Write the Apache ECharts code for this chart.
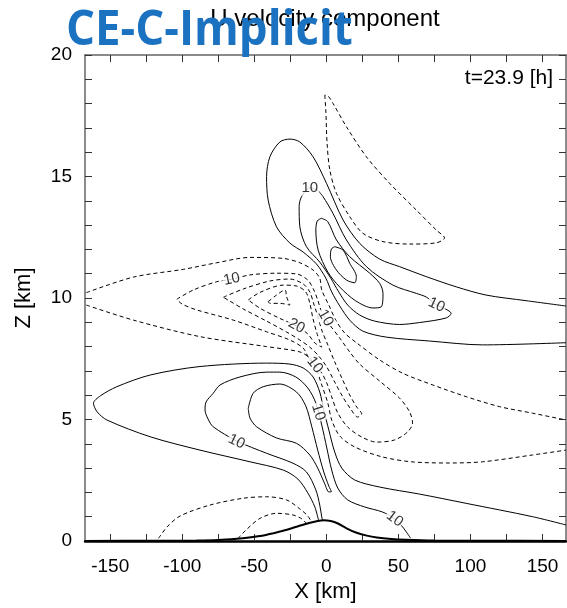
<!DOCTYPE html>
<html>
<head>
<meta charset="utf-8">
<title>U velocity component</title>
<script src="https://cdn.jsdelivr.net/npm/echarts@6.0.0/dist/echarts.min.js"></script>
<style>
html, body { margin: 0; padding: 0; background: #fff; }
#main { width: 567px; height: 608px; }
</style>
</head>
<body>
<div id="main"></div>
<script>
// tick values
var xTicks = [-150, -125, -100, -75, -50, -25, 0, 25, 50, 75, 100, 125, 150];
var xLabels = [-150, -100, -50, 0, 50, 100, 150];
var zLabels = [0, 5, 10, 15, 20];

// mountain profile [x km, z km]
var terrain = [[-167.5,0],[-120,0.01],[-90,0.02],[-75,0.04],[-62,0.09],[-55,0.13],[-42,0.25],[-30,0.42],[-20,0.6],[-12,0.74],[-6,0.82],[-2,0.85],[3,0.82],[8,0.72],[14,0.52],[20,0.36],[28,0.22],[35,0.14],[45,0.08],[55,0.05],[75,0.02],[110,0.01],[166.3,0]];

// positive contours (solid), upper jet
var posUp1 = [[166.3,9.67],[138.6,9.89],[110.9,10.12],[90.1,10.46],[69.3,10.88],[50.8,11.29],[37.0,11.60],[23.1,12.25],[11.6,13.21],[0.1,14.72],[-9.2,15.81],[-18.4,16.42],[-25.3,16.54],[-32.3,16.42],[-39.2,15.81],[-41.5,14.99],[-40.4,14.03],[-34.6,12.93],[-25.3,12.26],[-16.1,11.89],[-6.9,11.40],[-0.4,10.82],[3.7,10.25],[9.3,9.67],[16.2,9.09],[25.2,8.64],[41.6,8.39],[71.6,8.23],[108.5,8.07],[166.3,8.16]];
var posUp2 = [[-6.0,14.44],[-2.3,14.17],[4.6,13.48],[13.9,12.39],[27.8,11.29],[46.2,10.53],[62.4,10.19],[69.3,10.04],[76.5,9.71],[82.7,9.55],[86.6,9.37],[83.2,9.18],[64.7,8.99],[50.8,8.91],[33.5,9.05],[23.1,9.30],[14.8,9.71],[8.6,10.25],[3.0,10.82],[-4.6,11.48],[-13.8,12.11],[-18.4,12.93],[-18.9,13.76],[-17.2,14.17],[-11.5,14.53]];
var posUp3 = [[-3.4,13.28],[1.0,13.14],[7.0,12.39],[16.2,11.70],[30.1,11.02],[37.0,10.60],[39.3,10.19],[38.2,9.64],[32.3,9.59],[20.4,9.88],[9.3,10.45],[1.0,11.07],[-5.7,11.97],[-7.3,12.80],[-6.3,13.17]];
var posUp4 = [[5.8,12.11],[11.6,11.97],[16.2,11.43],[20.8,10.88],[19.7,10.63],[13.9,10.74],[7.0,11.15],[2.8,11.70],[3.5,12.02]];

// positive contours (solid), low level lee jet
var posLow1 = [[166.3,0.66],[143.1,1.00],[97.0,1.55],[64.7,1.93],[37.0,2.22],[19.7,2.51],[10.7,3.00],[5.8,3.66],[1.7,4.57],[-1.8,5.39],[-4.6,6.13],[-9.2,6.75],[-16.1,7.12],[-25.3,7.28],[-41.5,7.32],[-87.7,7.18],[-122.3,6.83],[-145.4,6.35],[-156.9,5.97],[-161.6,5.67],[-159.0,5.31],[-152.3,4.98],[-122.3,4.29],[-87.7,3.74],[-53.0,3.26],[-30.0,2.92],[-19.8,2.55],[-12.9,1.98],[-8.0,1.40],[-5.3,0.82]];
var posLow2 = [[58.4,0.12],[52.9,0.58],[47.4,0.91],[39.1,1.19],[26.6,1.40],[14.8,1.69],[7.9,2.18],[3.7,2.92],[0.3,3.83],[-3.2,4.77],[-7.3,5.68],[-12.9,6.30],[-21.2,6.75],[-32.3,6.95],[-41.5,6.95],[-60.0,6.75],[-73.8,6.42],[-78.5,6.08],[-83.5,5.72],[-84.2,5.39],[-82.1,5.02],[-78.5,4.70],[-62.3,4.12],[-41.5,3.61],[-23.1,3.20],[-13.8,2.84],[-7.3,2.10],[-4.6,1.48],[-3.2,0.99],[-2.5,0.82]];
var posLow3 = [[-54.2,5.46],[-50.8,6.08],[-43.8,6.35],[-32.3,6.46],[-20.7,6.13],[-14.3,5.56],[-10.1,4.70],[-6.0,3.74],[-1.8,2.84],[1.7,2.26],[3.5,2.03],[1.7,2.02],[-1.1,2.35],[-6.0,3.00],[-11.5,3.54],[-20.7,4.02],[-34.6,4.24],[-48.4,4.70],[-53.0,5.06]];

// negative contours (dashed)
var negTop = [[-1.1,18.35],[-0.4,17.74],[0.5,16.37],[2.4,15.27],[7.0,14.31],[16.2,13.35],[25.4,12.66],[39.3,12.32],[57.8,12.22],[76.2,12.27],[82.0,12.47],[76.2,12.80],[62.4,13.62],[43.9,14.72],[27.8,15.81],[13.9,17.05],[4.6,18.01],[1.2,18.31]];
var neg5Upper = [[-166.6,10.22],[-133.9,10.86],[-99.2,11.18],[-76.1,11.45],[-53.0,11.67],[-30.0,11.63],[-18.4,11.45],[-9.2,11.15],[-4.6,10.81],[-3.2,10.33],[1.7,9.71],[6.5,9.09],[12.7,8.56],[21.1,8.15],[37.0,7.45],[53.1,6.90],[73.9,6.42],[97.0,5.94],[120.1,5.53],[143.1,5.26],[166.3,4.98]];
var neg5Lower = [[-166.6,9.71],[-133.9,9.09],[-87.7,8.41],[-41.5,8.00],[-18.4,7.78],[-11.5,7.53],[-7.3,7.12],[-3.2,6.42],[1.0,5.68],[3.7,4.98],[9.3,4.32],[19.7,3.87],[38.2,3.47],[58.9,3.26],[85.5,3.21],[108.5,3.26],[143.1,3.54],[166.3,3.74]];
var neg10 = [[-103.8,9.95],[-92.3,10.33],[-76.1,10.67],[-65.7,10.77],[-53.0,10.95],[-34.6,11.02],[-20.7,10.99],[-12.9,10.74],[-8.7,10.33],[-6.0,9.92],[-3.2,9.42],[2.4,8.89],[9.3,8.35],[16.2,7.78],[23.1,7.28],[37.0,6.58],[50.8,5.88],[57.8,5.31],[59.8,4.86],[56.4,4.49],[47.4,4.16],[34.9,4.07],[24.5,4.28],[14.8,4.69],[7.9,5.27],[3.7,5.93],[0.3,6.50],[-3.2,6.91],[-8.0,7.24],[-12.2,7.53],[-16.1,7.94],[-25.3,8.27],[-41.5,8.61],[-64.6,9.09],[-90.0,9.51],[-100.1,9.75]];
var neg15 = [[-71.5,10.03],[-57.7,10.37],[-39.2,10.70],[-25.3,10.78],[-16.1,10.58],[-11.5,10.25],[-8.7,9.75],[-6.0,9.26],[-3.2,8.68],[1.0,8.07],[5.8,7.37],[10.7,6.71],[16.2,6.01],[21.1,5.51],[24.5,5.23],[21.7,5.10],[16.9,5.43],[11.4,5.93],[5.8,6.54],[0.3,7.16],[-5.3,7.61],[-11.5,7.98],[-18.4,8.27],[-27.6,8.60],[-41.5,9.05],[-57.7,9.55],[-68.3,9.92]];
var neg20 = [[-54.2,9.92],[-46.1,10.23],[-30.0,10.53],[-20.5,10.49],[-14.3,10.25],[-11.5,9.79],[-9.4,9.18],[-6.6,8.56],[-3.2,7.98],[-8.0,8.15],[-12.9,8.52],[-20.7,8.85],[-32.3,9.16],[-46.1,9.58]];
var neg25 = [[-40.4,9.85],[-34.6,10.12],[-28.7,10.33],[-27.6,10.05],[-25.3,9.71],[-32.3,9.78],[-39.2,9.78]];
var negGround1 = [[-116.5,0.11],[-110.5,0.58],[-101.5,1.03],[-80.7,1.48],[-57.7,1.76],[-41.5,1.82],[-27.6,1.69],[-18.4,1.32],[-12.9,1.03],[-10.1,0.76]];
var negGround2 = [[-61.4,0.10],[-55.8,0.45],[-46.1,0.93],[-34.6,1.14],[-23.1,1.07],[-17.0,0.91],[-13.8,0.72]];

// contour labels [x, z, text] and their angles
var contourLabels = [[-11.5,14.53,'10'],[76.5,9.71,'10'],[-65.7,10.77,'10'],[-0.6,9.18,'10'],[-8.0,7.24,'10'],[-20.7,8.85,'20'],[-5.7,5.30,'10'],[-62.3,4.09,'10'],[47.4,0.91,'10']];
var labelAngles = [0, -25, 12, -60, -52, -28, -72, -26, -37];

var FONT = 'Liberation Sans, Arial, sans-serif';

function contour(points, dashed, closed) {
    var d = points.slice();
    if (closed) {
        d.push(points[0]);
    }
    return {
        type: 'line',
        data: d,
        showSymbol: false,
        symbol: 'none',
        smooth: 0.3,
        silent: true,
        clip: true,
        z: 3,
        lineStyle: {
            color: '#000',
            width: 1,
            type: dashed ? [4, 3] : 'solid'
        }
    };
}

var series = [
    contour(posUp1, false, false),
    contour(posUp2, false, true),
    contour(posUp3, false, true),
    contour(posUp4, false, true),
    contour(posLow1, false, false),
    contour(posLow2, false, false),
    contour(posLow3, false, true),
    contour(negTop, true, true),
    contour(neg5Upper, true, false),
    contour(neg5Lower, true, false),
    contour(neg10, true, true),
    contour(neg15, true, true),
    contour(neg20, true, true),
    contour(neg25, true, true),
    contour(negGround1, true, false),
    contour(negGround2, true, false)
];

series.push({
    type: 'line',
    data: terrain,
    showSymbol: false,
    symbol: 'none',
    smooth: 0.3,
    silent: true,
    z: 5,
    lineStyle: { color: '#000', width: 2 }
});

series.push({
    type: 'scatter',
    symbolSize: 1,
    silent: true,
    z: 6,
    itemStyle: { color: 'rgba(0,0,0,0)' },
    data: contourLabels.map(function (l, i) {
        return {
            value: [l[0], l[1]],
            label: {
                show: true,
                position: 'inside',
                formatter: l[2],
                rotate: labelAngles[i],
                color: '#000',
                fontSize: 15,
                fontFamily: FONT,
                backgroundColor: '#fff',
                padding: [0, 1]
            }
        };
    })
});

var tickStyle = { color: '#333', width: 1 };

var option = {
    animation: false,
    backgroundColor: '#fff',
    grid: { left: 85, top: 55, width: 481, height: 486 },
    graphic: [
        {
            type: 'text', x: 325, y: 19, z: 10,
            style: { text: 'U velocity component', font: '24px ' + FONT, fill: '#000', align: 'center', verticalAlign: 'middle' }
        },
        {
            type: 'text', x: 66, y: 31, scaleX: 0.95, z: 20,
            style: { text: 'CE-C-Implicit', font: 'bold 48px "Open Sans"', fill: '#1b72c0', align: 'left', verticalAlign: 'middle' }
        },
        {
            type: 'text', x: 553, y: 78, z: 10,
            style: { text: 't=23.9 [h]', font: '21px ' + FONT, fill: '#000', align: 'right', verticalAlign: 'middle' }
        }
    ],
    xAxis: [
        {
            type: 'value', min: -167.5, max: 166.3, position: 'bottom',
            name: 'X [km]', nameLocation: 'middle', nameGap: 40,
            nameTextStyle: { fontSize: 22, color: '#000', fontFamily: FONT },
            axisLine: { show: true, onZero: false, lineStyle: { color: '#000', width: 2.5 } },
            axisTick: { show: true, inside: true, length: 7, customValues: xTicks, lineStyle: tickStyle },
            axisLabel: { customValues: xLabels, margin: 16, color: '#000', fontSize: 19, fontFamily: FONT },
            splitLine: { show: false }
        },
        {
            type: 'value', min: -167.5, max: 166.3, position: 'top',
            axisLine: { show: true, onZero: false, lineStyle: { color: '#666', width: 1.5 } },
            axisTick: { show: true, inside: true, length: 7, customValues: xTicks, lineStyle: tickStyle },
            axisLabel: { show: false },
            splitLine: { show: false }
        }
    ],
    yAxis: [
        {
            type: 'value', min: 0, max: 20, interval: 1, position: 'left',
            name: 'Z [km]', nameLocation: 'middle', nameGap: 50, nameRotate: 90,
            nameTextStyle: { fontSize: 22, color: '#000', fontFamily: FONT },
            axisLine: { show: true, onZero: false, lineStyle: { color: '#666', width: 1.5 } },
            axisTick: { show: true, inside: true, length: 7, lineStyle: tickStyle },
            axisLabel: { customValues: zLabels, margin: 13, color: '#000', fontSize: 19, fontFamily: FONT },
            splitLine: { show: false }
        },
        {
            type: 'value', min: 0, max: 20, interval: 1, position: 'right',
            axisLine: { show: true, onZero: false, lineStyle: { color: '#666', width: 1.5 } },
            axisTick: { show: true, inside: true, length: 7, lineStyle: tickStyle },
            axisLabel: { show: false },
            splitLine: { show: false }
        }
    ],
    series: series
};

var chart = echarts.init(document.getElementById('main'), null, { renderer: 'canvas' });
chart.setOption(option);
</script>
</body>
</html>
